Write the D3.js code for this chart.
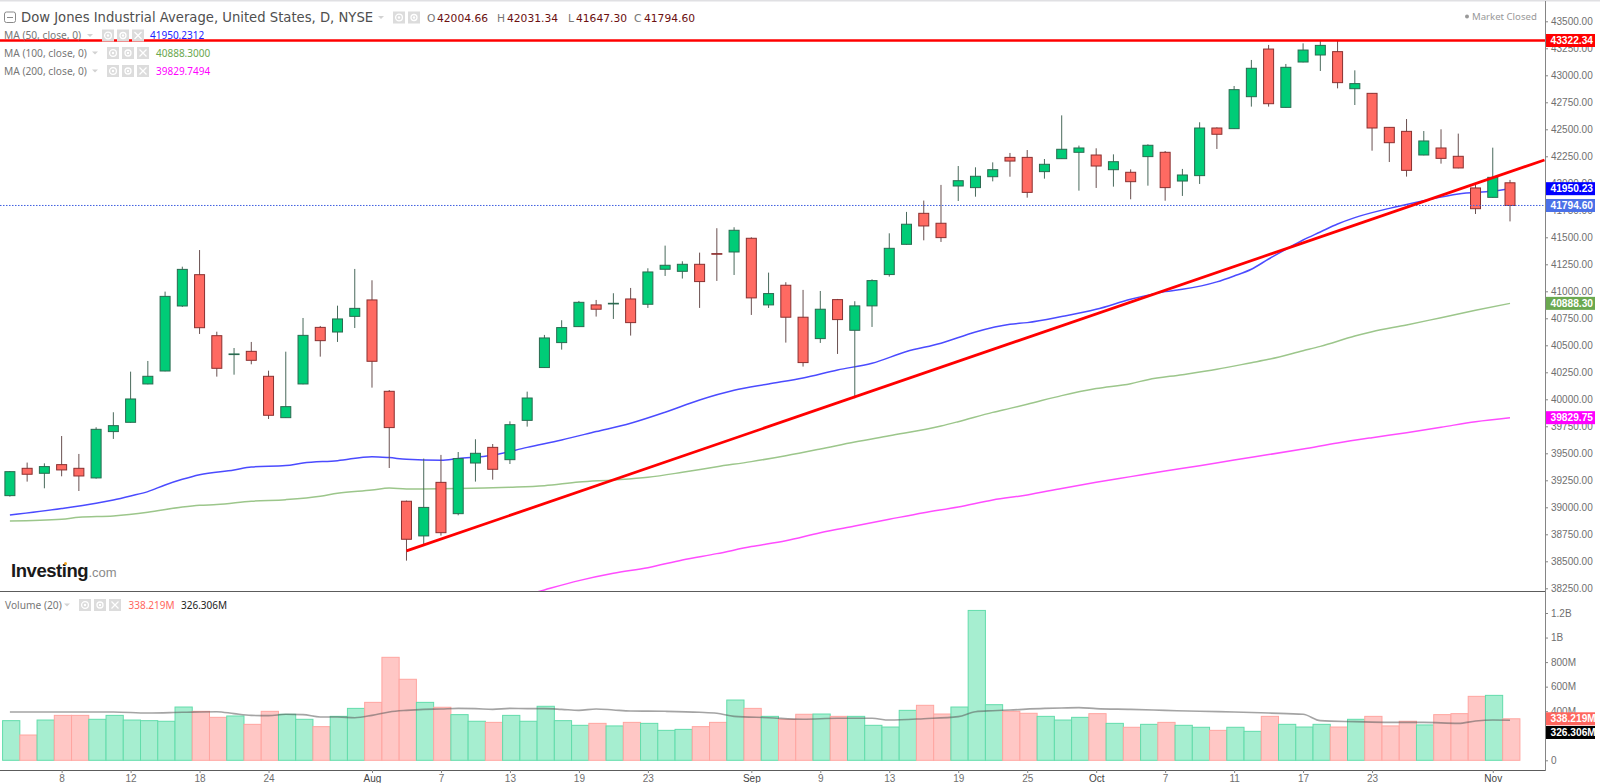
<!DOCTYPE html>
<html>
<head>
<meta charset="utf-8">
<title>Dow Jones Industrial Average</title>
<script src="https://cdn.jsdelivr.net/npm/d3@7"></script>
<style>
    html, body { margin: 0; padding: 0; background: #fff; overflow: hidden; }
    svg { display: block; }
    .axis text { font-family: "Liberation Sans", sans-serif; font-size: 10px; fill: #6f6f6f; }
    .axis line, .axis path { stroke: #858585; }
    .legend { font-family: "Noto Sans", sans-serif; }
    .badge text { font-family: "Liberation Sans", sans-serif; font-size: 10.2px; font-weight: bold; fill: #fff; }
</style>
</head>
<body>
<script>
// Daily candles, left to right (starts 2 Jul, ends 4 Nov)
var opens = [39108, 39361, 39315, 39395, 39361, 39272, 39701, 39787, 40142, 40262,
    40864, 41154, 40589, 40414, 40444, 40213, 39830, 40142, 40666, 40623,
    40768, 40920, 40074, 39056, 38735, 39231, 38941, 39410, 39555, 39441,
    39805, 40294, 40525, 40673, 40874, 40883, 40929, 40880, 41204, 41185,
    41250, 41349, 41364, 41491, 40874, 41056, 40760, 40562, 40923, 40639,
    40865, 41155, 41435, 41722, 41630, 41975, 41960, 42061, 42240, 42240,
    42108, 42228, 42287, 42262, 42126, 42102, 42247, 42287, 42021, 42071,
    42512, 42506, 42802, 43243, 42703, 43123, 43188, 43219, 42876, 42833,
    42518, 42481, 42262, 42327, 42250, 41957, 41870, 42004.66];
var closes = [39330, 39306, 39377, 39346, 39290, 39722, 39756, 40003, 40213, 40953,
    41203, 40663, 40287, 40420, 40361, 39852, 39932, 40592, 40543, 40744,
    40842, 40352, 39738, 38704, 38999, 38765, 39451, 39500, 39352, 39765,
    40012, 40568, 40664, 40898, 40834, 40889, 40710, 41179, 41241, 41250,
    41090, 41343, 41565, 40939, 40979, 40760, 40340, 40834, 40738, 40865,
    41099, 41398, 41621, 41605, 41497, 42024, 42065, 42126, 42206, 41916,
    42176, 42315, 42327, 42160, 42200, 42015, 42352, 41960, 42077, 42512,
    42454, 42867, 43065, 42737, 43074, 43234, 43277, 42932, 42923, 42512,
    42376, 42120, 42392, 42231, 42142, 41765, 42055, 41794.60];
var highs = [39336, 39414, 39407, 39660, 39494, 39741, 39880, 40256, 40355, 40997,
    41228, 41382, 40626, 40475, 40531, 40265, 40441, 40753, 40679, 40867,
    41207, 41102, 40086, 39062, 39451, 39485, 39512, 39630, 39586, 39796,
    40071, 40596, 40732, 40911, 40920, 40982, 41031, 41213, 41423, 41278,
    41358, 41584, 41593, 41500, 41173, 41084, 41013, 41003, 40929, 40908,
    41111, 41537, 41735, 41840, 41985, 42160, 42148, 42194, 42281, 42308,
    42225, 42629, 42349, 42324, 42268, 42129, 42361, 42299, 42133, 42565,
    42518, 42901, 43142, 43281, 43105, 43296, 43327, 43321, 43046, 42836,
    42521, 42595, 42484, 42500, 42460, 41991, 42330, 42031.34];
var lows = [39099, 39238, 39176, 39287, 39151, 39265, 39633, 39784, 40139, 40259,
    40855, 40605, 40210, 40228, 40324, 39818, 39827, 40139, 40395, 40531,
    40660, 40108, 39364, 38506, 38651, 38738, 38926, 39238, 39256, 39401,
    39747, 40290, 40460, 40670, 40766, 40744, 40590, 40846, 41142, 41118,
    40846, 41096, 41151, 40781, 40846, 40525, 40303, 40522, 40420, 40010,
    40670, 41136, 41432, 41472, 41457, 41836, 41876, 42018, 42061, 41867,
    42043, 42228, 41932, 41957, 41969, 41852, 41978, 41839, 41883, 41994,
    42318, 42503, 42710, 42710, 42700, 43120, 43040, 42879, 42725, 42302,
    42197, 42062, 42259, 42182, 42139, 41716, 41867, 41647.30];

// Volume per day, in millions
var volumes = [323, 206, 328, 366, 366, 334, 366, 328, 323, 318,
    434, 399, 350, 361, 293, 399, 375, 334, 274, 358,
    423, 472, 839, 660, 472, 432, 372, 318, 309, 366,
    318, 440, 323, 285, 301, 280, 309, 301, 244, 252,
    274, 309, 491, 423, 358, 334, 375, 377, 358, 358,
    285, 271, 407, 448, 377, 434, 1221, 453, 399, 383,
    358, 328, 350, 380, 301, 269, 293, 309, 285, 269,
    244, 269, 236, 358, 293, 271, 293, 271, 334, 358,
    280, 318, 288, 372, 380, 521, 529, 338.219];

var ma50Days = [0, 3, 5, 6, 7, 8, 9, 10, 11, 13, 14, 16, 17, 19, 21, 22, 23, 25, 26, 28, 30, 32, 34, 36, 38, 40, 42, 44, 46, 48, 50, 52, 54, 56, 58, 59, 61, 63, 65, 67, 68, 70, 71, 72, 73, 74, 75, 76, 77, 78, 80, 82, 84, 86, 87];
var ma50Values = [38929, 38988, 39037, 39068, 39105, 39145, 39207, 39259, 39302, 39346, 39373, 39386, 39410, 39432, 39469, 39460, 39444, 39435, 39451, 39481, 39555, 39624, 39701, 39778, 39880, 39994, 40084, 40142, 40198, 40272, 40334, 40442, 40519, 40624, 40695, 40710, 40766, 40833, 40926, 40997, 41018, 41087, 41142, 41204, 41299, 41389, 41475, 41549, 41623, 41682, 41768, 41839, 41901, 41929, 41950.23];
var ma100Days = [0, 3, 4, 6, 8, 10, 11, 12, 14, 16, 18, 19, 21, 22, 23, 26, 29, 31, 33, 35, 37, 39, 41, 43, 45, 47, 49, 51, 54, 55, 57, 58, 59, 61, 63, 65, 66, 68, 70, 72, 73, 75, 76, 78, 79, 81, 83, 85, 87];
var ma100Values = [38873, 38889, 38907, 38920, 38954, 39003, 39019, 39025, 39056, 39071, 39102, 39130, 39160, 39179, 39170, 39173, 39185, 39200, 39234, 39253, 39278, 39324, 39376, 39423, 39478, 39540, 39605, 39663, 39753, 39793, 39879, 39916, 39954, 40034, 40099, 40145, 40182, 40228, 40278, 40339, 40370, 40450, 40490, 40586, 40626, 40688, 40756, 40824, 40888.30];
var ma200Days = [30, 31, 33, 35, 37, 39, 41, 43, 45, 47, 49, 51, 53, 55, 57, 59, 61, 63, 65, 67, 69, 71, 73, 75, 77, 79, 81, 83, 85, 87];
var ma200Values = [38190, 38235, 38321, 38389, 38441, 38512, 38571, 38636, 38691, 38765, 38827, 38889, 38950, 39003, 39068, 39114, 39175, 39232, 39284, 39336, 39384, 39438, 39488, 39540, 39596, 39645, 39691, 39741, 39793, 39829.75];
var volMaDays = [0, 3, 6, 8, 10, 12, 13, 14, 15, 16, 17, 18, 19, 20, 21, 22, 23, 24, 25, 26, 27, 28, 29, 30, 31, 32, 33, 34, 35, 36, 38, 40, 41, 42, 44, 46, 48, 50, 51, 53, 55, 56, 57, 58, 60, 61, 62, 63, 65, 67, 69, 71, 73, 75, 76, 78, 80, 82, 84, 85, 86, 87];
var volMaValues = [394, 394, 394, 385, 391, 396, 380, 366, 364, 375, 372, 353, 353, 347, 366, 394, 407, 415, 418, 423, 421, 415, 423, 421, 421, 415, 407, 418, 410, 402, 399, 391, 383, 358, 347, 334, 342, 342, 328, 339, 356, 396, 404, 410, 423, 426, 429, 421, 415, 407, 399, 394, 385, 375, 323, 315, 309, 309, 301, 320, 328, 326.306];

// Hand drawn lines on the chart
var trendDays = [23, 89];
var trendPrices = [38596, 42216];
var resistance = 43322.34;

// Axis labels
var priceTicks = [43500, 43250, 43000, 42750, 42500, 42250, 42000, 41750, 41500, 41250, 41000, 40750, 40500, 40250, 40000, 39750, 39500, 39250, 39000, 38750, 38500, 38250];
var volumeTicks = [0, 400, 600, 800, 1000, 1200];
var volumeTickLabels = ["0", "400M", "600M", "800M", "1B", "1.2B"];
var dateTickDays = [3, 7, 11, 15, 21, 25, 29, 33, 37, 43, 47, 51, 55, 59, 63, 67, 71, 75, 79, 86];
var dateTickLabels = ["8", "12", "18", "24", "Aug", "7", "13", "19", "23", "Sep", "9", "13", "19", "25", "Oct", "7", "11", "17", "23", "Nov"];

var width = 1600, height = 783;
var axisX = 1545, paneBottom = 591, volBottom = 770;

var x = d3.scaleLinear().domain([0, 87]).range([9.9, 1510]);
var yPrice = d3.scaleLinear().domain([43500, 38250]).range([21.3, 588.3]);
var yVol = d3.scaleLinear().domain([0, 1200]).range([760.3, 613]);
var step = x(1) - x(0);
var barShift = 1.3;

var svg = d3.select("body").append("svg")
    .attr("width", width)
    .attr("height", height);

svg.append("clipPath").attr("id", "pricePane")
    .append("rect").attr("x", 0).attr("y", 0).attr("width", axisX).attr("height", paneBottom);

// Frame
svg.append("rect").attr("width", width).attr("height", 1.5).attr("fill", "#e0e0e3");
svg.append("line").attr("x1", 0).attr("x2", axisX).attr("y1", paneBottom + 0.5).attr("y2", paneBottom + 0.5).attr("stroke", "#5c5c5c");
svg.append("line").attr("x1", 0).attr("x2", axisX).attr("y1", volBottom + 0.5).attr("y2", volBottom + 0.5).attr("stroke", "#5c5c5c");

// Volume bars and their average
var days = d3.range(opens.length);
svg.append("g").selectAll("rect")
    .data(days)
    .enter().append("rect")
    .attr("x", d => x(d) - step / 2 + barShift)
    .attr("width", step)
    .attr("y", d => yVol(volumes[d]))
    .attr("height", d => yVol(0) - yVol(volumes[d]))
    .attr("fill", d => closes[d] >= opens[d] ? "#a6eed0" : "#ffc7c5")
    .attr("stroke", d => closes[d] >= opens[d] ? "#62dcab" : "#ffa5a0")
    .attr("stroke-width", 1);

var volLine = d3.line().x(d => x(d)).y((d, i) => yVol(volMaValues[i])).curve(d3.curveMonotoneX);
svg.append("path")
    .attr("d", volLine(volMaDays))
    .attr("fill", "none")
    .attr("stroke", "#5a5a5a")
    .attr("stroke-opacity", 0.55)
    .attr("stroke-width", 1.6);

var priceG = svg.append("g").attr("clip-path", "url(#pricePane)");

// Moving averages sit behind the candles
function drawMa(dayList, valueList, colour) {
    var line = d3.line().x(d => x(d)).y((d, i) => yPrice(valueList[i])).curve(d3.curveMonotoneX);
    priceG.append("path")
        .attr("d", line(dayList))
        .attr("fill", "none")
        .attr("stroke", colour)
        .attr("stroke-width", 1.5);
}
drawMa(ma100Days, ma100Values, "#9cc68b");
drawMa(ma200Days, ma200Values, "#ff4dff");
drawMa(ma50Days, ma50Values, "#4b4bff");

// Candles
var candle = priceG.append("g").selectAll("g")
    .data(days)
    .enter().append("g");

candle.append("line")
    .attr("x1", d => x(d))
    .attr("x2", d => x(d))
    .attr("y1", d => yPrice(highs[d]))
    .attr("y2", d => yPrice(lows[d]))
    .attr("stroke", d => closes[d] >= opens[d] ? "#4a6a5c" : "#6a5050")
    .attr("stroke-width", 1);

candle.append("rect")
    .attr("x", d => x(d) - 5)
    .attr("width", 10)
    .attr("y", d => yPrice(Math.max(opens[d], closes[d])))
    .attr("height", d => Math.abs(yPrice(opens[d]) - yPrice(closes[d])))
    .attr("fill", d => closes[d] >= opens[d] ? "#00cc77" : "#ff6a62")
    .attr("stroke", d => closes[d] >= opens[d] ? "#2a6a50" : "#8a3030")
    .attr("stroke-width", 1);

// Last price dotted line
priceG.append("line")
    .attr("x1", 0).attr("x2", axisX)
    .attr("y1", yPrice(closes[87])).attr("y2", yPrice(closes[87]))
    .attr("stroke", "#3f5fe0")
    .attr("stroke-width", 1)
    .attr("stroke-dasharray", "1.5,1.5");

// Trend line and resistance
var trendLine = d3.line().x(d => x(d)).y((d, i) => yPrice(trendPrices[i]));
priceG.append("path")
    .attr("d", trendLine(trendDays))
    .attr("fill", "none")
    .attr("stroke", "#ff0000")
    .attr("stroke-width", 2.8);
priceG.append("line")
    .attr("x1", 0).attr("x2", axisX)
    .attr("y1", yPrice(resistance)).attr("y2", yPrice(resistance))
    .attr("stroke", "#ff0000")
    .attr("stroke-width", 2.5);

// Axes
var priceAxis = d3.axisRight(yPrice).tickValues(priceTicks).tickSize(3).tickPadding(3).tickFormat(d3.format(".2f"));
svg.append("g").attr("class", "axis").attr("transform", "translate(" + axisX + ",0)").call(priceAxis)
    .select(".domain").remove();

var volumeAxis = d3.axisRight(yVol).tickValues(volumeTicks).tickSize(3).tickPadding(3)
    .tickFormat(d => volumeTickLabels[volumeTicks.indexOf(d)]);
svg.append("g").attr("class", "axis").attr("transform", "translate(" + axisX + ",0)").call(volumeAxis)
    .select(".domain").remove();

svg.append("line").attr("x1", axisX + 0.5).attr("x2", axisX + 0.5).attr("y1", 1).attr("y2", volBottom + 1).attr("stroke", "#858585");

var dateAxis = d3.axisBottom(x).tickValues(dateTickDays).tickSize(3).tickPadding(2)
    .tickFormat(d => dateTickLabels[dateTickDays.indexOf(d)]);
var dateG = svg.append("g").attr("class", "axis").attr("transform", "translate(0," + volBottom + ")").call(dateAxis);
dateG.select(".domain").remove();
dateG.selectAll("text").filter(d => isNaN(+dateTickLabels[dateTickDays.indexOf(d)])).style("fill", "#444");

// Value badges on the right axis
function badge(cy, label, colour) {
    var g = svg.append("g").attr("class", "badge");
    g.append("rect").attr("x", axisX + 1).attr("y", cy - 6.5).attr("width", 49).attr("height", 13).attr("fill", colour);
    g.append("text").attr("x", axisX + 5.5).attr("y", cy + 3.7).text(label);
}
badge(yPrice(resistance), "43322.34", "#ff0000");
badge(yPrice(41950.23), "41950.23", "#0000ff");
badge(yPrice(closes[87]), "41794.60", "#4a70e8");
badge(yPrice(40888.30), "40888.30", "#6aa84f");
badge(yPrice(39829.75), "39829.75", "#ff00ff");
badge(yVol(338.219), "338.219M", "#ff665e");
badge(yVol(338.219) + 13.7, "326.306M", "#000000");

// Legend helpers
function legendText(px, py, label, colour, size, family) {
    var t = svg.append("text").attr("class", "legend")
        .attr("x", px).attr("y", py)
        .attr("font-size", size || 10.5)
        .attr("fill", colour)
        .text(label);
    if (family) t.style("font-family", family);
    return t;
}
function caret(px, py) {
    svg.append("path").attr("d", "M" + px + "," + (py - 1.5) + "h6l-3,3z").attr("fill", "#d2d2d2");
}
function iconBox(px, py, kind) {
    var g = svg.append("g").attr("transform", "translate(" + px + "," + (py - 6) + ")");
    g.append("rect").attr("width", 12).attr("height", 12).attr("fill", "#dcdcdc");
    if (kind === "x") {
        g.append("path").attr("d", "M2.5,2.5L9.5,9.5M9.5,2.5L2.5,9.5").attr("stroke", "#fff").attr("stroke-width", 1.2);
    } else {
        g.append("circle").attr("cx", 6).attr("cy", 6).attr("r", kind === "eye" ? 3.4 : 3)
            .attr("fill", "none").attr("stroke", "#fff").attr("stroke-width", 1.3);
        g.append("circle").attr("cx", 6).attr("cy", 6).attr("r", 1.2).attr("fill", "#fff");
    }
}

// Header row
var headerFont = "'DejaVu Sans', sans-serif";
svg.append("rect").attr("x", 4.5).attr("y", 12).attr("width", 11).attr("height", 10.5).attr("rx", 2)
    .attr("fill", "none").attr("stroke", "#8a8a8a");
svg.append("line").attr("x1", 7).attr("x2", 13).attr("y1", 17.5).attr("y2", 17.5).attr("stroke", "#8a8a8a");
legendText(21, 22, "Dow Jones Industrial Average, United States, D, NYSE", "#4f4f4f", 13.2, headerFont);
caret(378, 17.5);
iconBox(393, 17.5, "eye");
iconBox(408, 17.5, "gear");
legendText(427, 22, "O", "#777", 10.7, headerFont);
legendText(437, 22, "42004.66", "#6b1010", 10.7, headerFont);
legendText(497, 22, "H", "#777", 10.7, headerFont);
legendText(507, 22, "42031.34", "#6b1010", 10.7, headerFont);
legendText(568, 22, "L", "#777", 10.7, headerFont);
legendText(576, 22, "41647.30", "#6b1010", 10.7, headerFont);
legendText(634, 22, "C", "#777", 10.7, headerFont);
legendText(644, 22, "41794.60", "#6b1010", 10.7, headerFont);

// Indicator rows
legendText(4, 39, "MA (50, close, 0)", "#777", 10.2);
caret(87, 35.5);
iconBox(102, 35.5, "eye"); iconBox(117, 35.5, "gear"); iconBox(132, 35.5, "x");
legendText(150, 39, "41950.2312", "#2222ff", 10);

legendText(4, 57, "MA (100, close, 0)", "#777", 10.2);
caret(92, 53);
iconBox(107, 53, "eye"); iconBox(122, 53, "gear"); iconBox(137, 53, "x");
legendText(156, 57, "40888.3000", "#6aa84f", 10);

legendText(4, 75, "MA (200, close, 0)", "#777", 10.2);
caret(92, 71);
iconBox(107, 71, "eye"); iconBox(122, 71, "gear"); iconBox(137, 71, "x");
legendText(156, 75, "39829.7494", "#ff00ff", 10);

legendText(5, 609, "Volume (20)", "#777", 10.2);
caret(64, 605);
iconBox(79, 605, "eye"); iconBox(94, 605, "gear"); iconBox(109, 605, "x");
legendText(128.5, 609, "338.219M", "#ff665e", 10);
legendText(181, 609, "326.306M", "#222", 10);

// Market status
svg.append("circle").attr("cx", 1467).attr("cy", 16.5).attr("r", 2).attr("fill", "#999");
legendText(1472, 20, "Market Closed", "#999", 9.6);

// Logo
svg.append("text").attr("x", 11).attr("y", 577)
    .attr("font-family", "Liberation Sans, sans-serif").attr("font-weight", "bold").attr("font-size", 18.5)
    .attr("letter-spacing", -0.45).attr("fill", "#1a1a1a").text("Investing");
svg.append("text").attr("x", 88.5).attr("y", 577)
    .attr("font-family", "Liberation Sans, sans-serif").attr("font-size", 13).attr("fill", "#8a8a8a").text(".com");
svg.append("circle").attr("cx", 65.5).attr("cy", 563.5).attr("r", 1.5).attr("fill", "#f5a623");
</script>
</body>
</html>
